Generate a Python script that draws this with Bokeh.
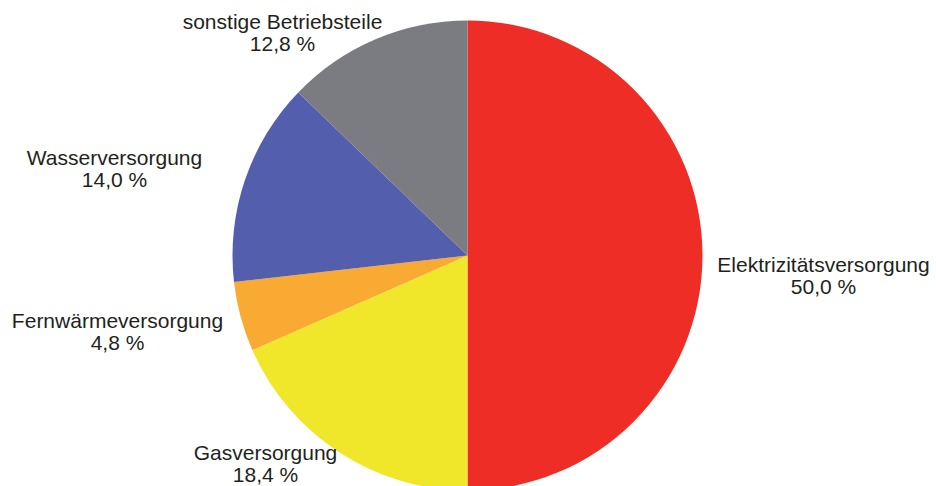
import math
from bokeh.plotting import figure
from bokeh.models import ColumnDataSource
from bokeh.core.properties import value
from bokeh.embed import file_html
from bokeh.resources import INLINE

# data
categories = ["Elektrizitätsversorgung", "Gasversorgung", "Fernwärmeversorgung",
              "Wasserversorgung", "sonstige Betriebsteile"]
shares = [50.0, 18.4, 4.8, 14.0, 12.8]
colors = ["#ee2e26", "#f0e72b", "#f9aa33", "#535eac", "#7b7c81"]

# layout (pixel positions of label centres: x, baseline of first line from top)
label_pos = [(823, 264), (265, 452), (117, 320), (114, 157), (282, 21)]
W, H = 936, 486
cx, cy, r = 467, 255, 235
line_gap = 22

total = sum(shares)
starts, ends = [], []
cum = 0.0
for s in shares:
    prev = cum
    cum += s / total
    starts.append(math.pi / 2 - cum * 2 * math.pi)
    ends.append(math.pi / 2 - prev * 2 * math.pi)

src = ColumnDataSource(dict(start=starts, end=ends, color=colors))

p = figure(width=W, height=H, x_range=(0, W), y_range=(0, H),
           output_backend="svg", toolbar_location=None, min_border=0,
           match_aspect=False)
p.axis.visible = False
p.grid.visible = False
p.outline_line_color = None
p.background_fill_color = "white"
p.border_fill_color = "white"

p.wedge(x=cx, y=H - cy, radius=r, start_angle="start", end_angle="end",
        fill_color="color", line_color=None, source=src)

value_txt = [f"{v:.1f} %".replace(".", ",") for v in shares]
lx = [pos[0] for pos in label_pos]
ly1 = [H - pos[1] for pos in label_pos]
ly2 = [H - pos[1] - line_gap for pos in label_pos]

for ys, txts in ((ly1, categories), (ly2, value_txt)):
    p.text(x=lx, y=ys, text=txts, text_align="center", text_baseline="alphabetic",
           text_font=value("Liberation Sans"), text_font_size="21px",
           text_color="#231f20")

open("out.html", "w").write(file_html(p, INLINE))
